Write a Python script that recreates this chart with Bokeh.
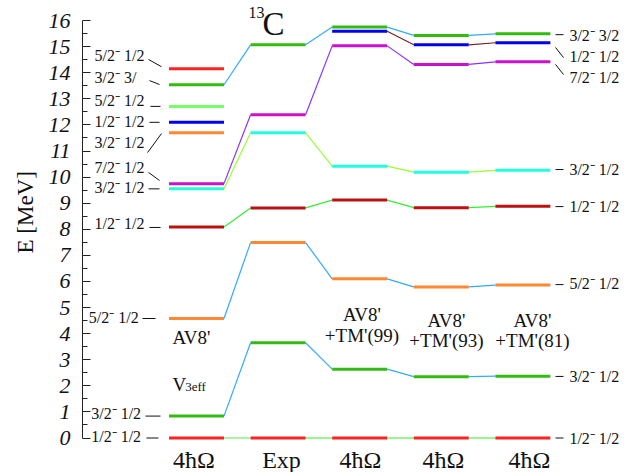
import math
from bokeh.plotting import figure
from bokeh.models import Range1d, FixedTicker, ColumnDataSource, Title
from bokeh.core.properties import value
from bokeh.embed import file_html
from bokeh.resources import INLINE

SERIF = "Liberation Serif"

# ---------------- data ----------------
col_labels = ["4ħΩ", "Exp", "4ħΩ", "4ħΩ", "4ħΩ"]
col_pos = [1, 2, 3, 4, 5]

# energies (MeV) per column; None = level not shown in that column
E_gs      = [0.00, 0.00, 0.00, 0.00, 0.00]     # 1/2- 1/2
E_32a     = [0.84, 3.65, 2.64, 2.35, 2.37]     # 3/2- 1/2
E_52a     = [4.58, 7.49, 6.10, 5.79, 5.86]     # 5/2- 1/2
E_12b     = [8.09, 8.82, 9.12, 8.83, 8.88]     # 1/2- 1/2
E_32b     = [9.55, 11.70, 10.42, 10.19, 10.26] # 3/2- 1/2
E_72      = [9.75, 12.39, 15.03, 14.32, 14.42] # 7/2- 1/2
E_32T     = [13.54, 15.07, 15.75, 15.43, 15.49]# 3/2- 3/2
E_12c     = [12.10, None, 15.59, 15.07, 15.15] # 1/2- 1/2
E_32c     = [11.70, None, None, None, None]    # 3/2- 1/2
E_52b     = [12.71, None, None, None, None]    # 5/2- 1/2
E_52c     = [14.15, None, None, None, None]    # 5/2- 1/2

# (energies, level colour, connector colour)
states = [
    (E_gs,  "#ff2222", "#55ee44"),
    (E_32a, "#33bb11", "#33aaff"),
    (E_52a, "#ff8833", "#33aaff"),
    (E_12b, "#bb1111", "#33ee33"),
    (E_32b, "#22ffdd", "#99ff33"),
    (E_72,  "#cc11cc", "#8833ff"),
    (E_32T, "#33bb11", "#33aaff"),
    (E_12c, "#0000ee", "#772222"),
    (E_32c, "#ff8833", "#33aaff"),
    (E_52b, "#77ff66", "#33aaff"),
    (E_52c, "#ff2222", "#33aaff"),
]

# left-side level labels: text, text y, leader start y, leader end y
left_text  = ["5/2⁻ 1/2", "3/2⁻ 3/", "5/2⁻ 1/2", "1/2⁻ 1/2", "3/2⁻ 1/2", "7/2⁻ 1/2",
              "3/2⁻ 1/2", "1/2⁻ 1/2", "5/2⁻ 1/2", "3/2⁻ 1/2", "1/2⁻ 1/2"]
left_ty    = [14.66, 13.82, 12.94, 12.13, 11.33, 10.37, 9.60, 8.22, 4.62, 0.94, 0.06]
left_ly0   = [14.51, 13.70, 12.71, 12.10, 10.94, 10.18, 9.55, 8.07, 4.58, 0.84, 0.00]
left_ly1   = [14.23, 13.55, 12.71, 12.10, 11.67, 9.87, 9.55, 8.07, 4.58, 0.84, 0.00]

# right-side level labels
right_text = ["3/2⁻ 3/2", "1/2⁻ 1/2", "7/2⁻ 1/2", "3/2⁻ 1/2", "1/2⁻ 1/2",
              "5/2⁻ 1/2", "3/2⁻ 1/2", "1/2⁻ 1/2"]
right_ty   = [15.43, 14.62, 13.82, 10.29, 8.87, 5.92, 2.36, 0.00]
right_ly0  = [15.46, 14.97, 14.32, 10.29, 8.87, 5.88, 2.36, 0.00]
right_ly1  = [15.46, 14.58, 13.93, 10.29, 8.87, 5.88, 2.36, 0.00]

y_ticks = list(range(0, 17))
y_minor = [t + 0.5 for t in range(0, 16)]

# ---------------- layout constants ----------------
HALF = 0.337
left_tx  = [-0.25] * 8 + [-0.32, -0.29, -0.29]
left_lx0 = [0.412, 0.424, 0.436, 0.424, 0.400, 0.412, 0.412, 0.424, 0.338, 0.375, 0.387]
left_lx1 = [0.571, 0.547, 0.559, 0.547, 0.571, 0.547, 0.547, 0.559, 0.498, 0.559, 0.534]
RIGHT_TX = 5.570
RIGHT_LX0, RIGHT_LX1 = 5.400, 5.498
bottom_x = [0.969, 2.042, 3.010, 4.027, 5.081]

p = figure(width=626, height=472,
           x_range=Range1d(-0.397, 6.270), y_range=Range1d(-1.322, 16.769),
           x_axis_location=None, output_backend="svg", toolbar_location=None,
           min_border_left=82, min_border_right=0, min_border_top=0, min_border_bottom=0)
p.outline_line_color = None
p.grid.grid_line_color = None
p.background_fill_color = "white"

ax = p.yaxis[0]
ax.ticker = FixedTicker(ticks=y_ticks, minor_ticks=y_minor)
ax.bounds = (0, 16)
ax.axis_line_color = "#222222"
ax.major_tick_line_color = "#222222"
ax.minor_tick_line_color = "#222222"
ax.major_tick_in = 8
ax.major_tick_out = 0
ax.minor_tick_in = 5
ax.minor_tick_out = 0
ax.major_label_standoff = 12
ax.major_label_text_font = SERIF
ax.major_label_text_font_style = "italic"
ax.major_label_text_font_size = "22px"
ax.major_label_text_color = "#111111"

# vertical axis title, in the left side panel
p.add_layout(Title(text="E [MeV]", align="left", offset=219, standoff=16,
                   text_font=SERIF, text_font_style="normal", text_font_size="23px",
                   text_color="#111111"), "left")

# connectors
cx0, cy0, cx1, cy1, cc = [], [], [], [], []
for energies, lc, conc in states:
    for i in range(len(col_pos) - 1):
        a, b = energies[i], energies[i + 1]
        if a is not None and b is not None:
            cx0.append(col_pos[i] + HALF); cy0.append(a)
            cx1.append(col_pos[i + 1] - HALF); cy1.append(b)
            cc.append(conc)
p.segment(x0="x0", y0="y0", x1="x1", y1="y1", line_color="c", line_width=1.2,
          source=ColumnDataSource(dict(x0=cx0, y0=cy0, x1=cx1, y1=cy1, c=cc)))

# levels
lx0, lx1, ly, lc_ = [], [], [], []
for energies, lc, conc in states:
    for i, e in enumerate(energies):
        if e is not None:
            lx0.append(col_pos[i] - HALF); lx1.append(col_pos[i] + HALF)
            ly.append(e); lc_.append(lc)
p.segment(x0="x0", y0="y", x1="x1", y1="y", line_color="c", line_width=3, line_cap="butt",
          source=ColumnDataSource(dict(x0=lx0, x1=lx1, y=ly, c=lc_)))

def txt(x, y, t, size, align="left"):
    p.text(x=x, y=y, text=t, text_font=value(SERIF), text_font_size=size,
           text_align=align, text_baseline="middle", text_color="#111111")

# left labels + leaders
txt(left_tx, left_ty, left_text, "16px")
p.segment(x0=left_lx0, y0=left_ly0, x1=left_lx1, y1=left_ly1, line_color="#111111", line_width=1)

# right labels + leaders
txt([RIGHT_TX] * len(right_text), right_ty, right_text, "16px")
p.segment(x0=[RIGHT_LX0] * len(right_text), y0=right_ly0,
          x1=[RIGHT_LX1] * len(right_text), y1=right_ly1, line_color="#111111", line_width=1)

# bottom column labels
txt(bottom_x, [-0.86] * len(col_labels), col_labels, "24px", "center")

# interaction labels
txt([0.706], [3.87], ["AV8'"], "19px")
txt([0.706], [2.07], ["V"], "19px")
txt([0.862], [1.97], ["3eff"], "13px")
txt([3.028, 4.064, 5.118], [4.73, 4.50, 4.50], ["AV8'", "AV8'", "AV8'"], "19px", "center")
txt([3.028, 4.064, 5.118], [3.93, 3.74, 3.74], ["+TM'(99)", "+TM'(93)", "+TM'(81)"],
    "19px", "center")

# title 13C
txt([1.637], [16.29], ["13"], "16px")
txt([1.809], [15.87], ["C"], "33px")

open("out.html", "w").write(file_html(p, INLINE))
